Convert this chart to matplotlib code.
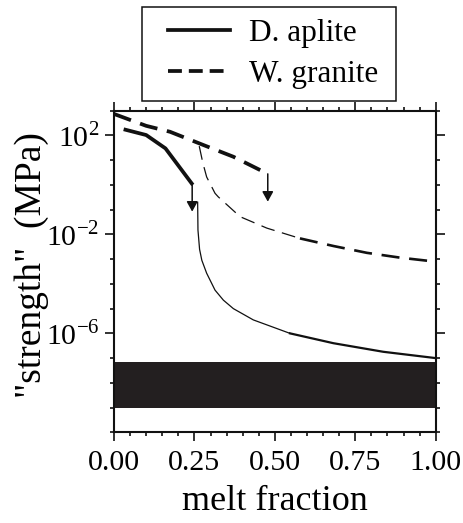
import matplotlib
matplotlib.use('Agg')
import matplotlib.pyplot as plt
from matplotlib.legend_handler import HandlerLine2D
from matplotlib.lines import Line2D
from matplotlib.ticker import FixedLocator, NullFormatter, MultipleLocator

plt.rcParams['font.family'] = ['Liberation Serif', 'DejaVu Serif']
plt.rcParams['mathtext.fontset'] = 'custom'
plt.rcParams['mathtext.rm'] = 'Liberation Serif'
plt.rcParams['lines.scale_dashes'] = False

# D. aplite, thick (solid-state) branch
aplite_x = [0.03, 0.10, 0.16, 0.245]
aplite_y = [178, 104, 30, 1.0]
# D. aplite, thin (melt-present) branch
aplite_melt_x = [0.26, 0.261, 0.266, 0.273, 0.288, 0.314, 0.34, 0.371,
                 0.433, 0.547, 0.682, 0.837, 1.0]
aplite_melt_y = [2.0e-1, 1.5e-2, 2.5e-3, 9.0e-4, 2.7e-4, 5.6e-5, 2.2e-5,
                 1.0e-5, 3.5e-6, 1.0e-6, 4.0e-7, 1.8e-7, 1.0e-7]

# W. granite, thick branch
granite_x = [0.0, 0.10, 0.174, 0.278, 0.371, 0.478]
granite_y = [740, 245, 141, 41, 13.8, 2.8]
# W. granite, thin branch
granite_melt_x = [0.265, 0.276, 0.288, 0.314, 0.324, 0.392, 0.475, 0.578,
                  0.682, 0.786, 0.889, 1.0]
granite_melt_y = [37, 7.9, 2.1, 0.46, 0.33, 5.2e-2, 1.8e-2, 6.9e-3,
                  3.4e-3, 1.8e-3, 1.15e-3, 7.9e-4]

# arrows at the end of the thick branches
arrow_x = [0.243, 0.478]
arrow_top = [1.0, 2.8]
arrow_bottom = [0.083, 0.21]

# shaded band
band_lo, band_hi = 1.0e-9, 6.9e-8

fig = plt.figure(figsize=(4.64, 5.23), dpi=100)
ax = fig.add_axes([0.2457, 0.1734, 0.6933, 0.6149])

k = '#111111'
dash_thick = (0, (13.0, 7.0))
dash_thin = (0, (10.0, 5.5))

ax.axhspan(band_lo, band_hi, color='#231f20', lw=0)

ax.plot(aplite_x, aplite_y, color=k, lw=2.7, solid_capstyle='butt')
lo = [i for i, x in enumerate(aplite_melt_x) if x <= 0.547]
hi = [i for i, x in enumerate(aplite_melt_x) if x >= 0.547]
ax.plot([aplite_melt_x[i] for i in lo], [aplite_melt_y[i] for i in lo],
        color=k, lw=0.9)
ax.plot([aplite_melt_x[i] for i in hi], [aplite_melt_y[i] for i in hi],
        color=k, lw=1.6)

ax.plot(granite_x, granite_y, color=k, lw=2.7, ls=dash_thick)
lo = [i for i, x in enumerate(granite_melt_x) if x <= 0.578]
hi = [i for i, x in enumerate(granite_melt_x) if x >= 0.578]
ax.plot([granite_melt_x[i] for i in lo], [granite_melt_y[i] for i in lo],
        color=k, lw=0.9, ls=dash_thin)
ax.plot([granite_melt_x[i] for i in hi], [granite_melt_y[i] for i in hi],
        color=k, lw=1.9, ls=dash_thick)

for x, y0, y1 in zip(arrow_x, arrow_top, arrow_bottom):
    ax.annotate('', xy=(x, y1), xytext=(x, y0),
                arrowprops=dict(arrowstyle='-|>,head_length=0.6,head_width=0.33',
                                color=k, lw=1.1, shrinkA=0, shrinkB=0))

ax.set_yscale('log')
ax.set_xlim(0, 1)
ax.set_ylim(1e-10, 1e3)
ax.set_xticks([0, 0.25, 0.5, 0.75, 1.0])
ax.set_xticklabels(['0.00', '0.25', '0.50', '0.75', '1.00'])
ax.xaxis.set_minor_locator(MultipleLocator(0.05))
ax.yaxis.set_major_locator(FixedLocator([1e2, 1e-2, 1e-6]))
ax.set_yticklabels([r'$10^{2}$', r'$10^{-2}$', r'$10^{-6}$'])
ax.yaxis.set_minor_locator(FixedLocator([10.0 ** e for e in range(-10, 4)]))
ax.yaxis.set_minor_formatter(NullFormatter())

ax.tick_params(which='both', direction='out', top=True, right=True,
               labelsize=21.5, width=1.2, color=k)
ax.tick_params(which='major', length=6.5, pad=4)
ax.tick_params(which='minor', length=3.2)
ax.tick_params(axis='x', which='major', pad=6)
for s in ax.spines.values():
    s.set_linewidth(1.5)
    s.set_color(k)

ax.set_xlabel('melt fraction', fontsize=26, labelpad=6.5)
ax.set_ylabel('"strength"  (MPa)', fontsize=27)
ax.yaxis.set_label_coords(-0.202, 0.52)

handles = [Line2D([], [], color=k, lw=2.7),
           Line2D([], [], color=k, lw=2.7, ls=(0, (10.0, 5.0)))]
top = 1 - 7 / 523
h = 92 / 523
leg = fig.legend(handles, ['D. aplite', 'W. granite'], fontsize=22.5,
                 loc='upper left',
                 bbox_to_anchor=(142 / 464, top - h, 254 / 464, h),
                 mode='expand', handlelength=2.45, handletextpad=0.6,
                 labelspacing=0.38, borderpad=0.38, borderaxespad=0,
                 handler_map={Line2D: HandlerLine2D(xpad=0.45)},
                 fancybox=False, framealpha=1, edgecolor=k)
leg.get_frame().set_linewidth(1.1)

fig.savefig('out.png', dpi=100)
